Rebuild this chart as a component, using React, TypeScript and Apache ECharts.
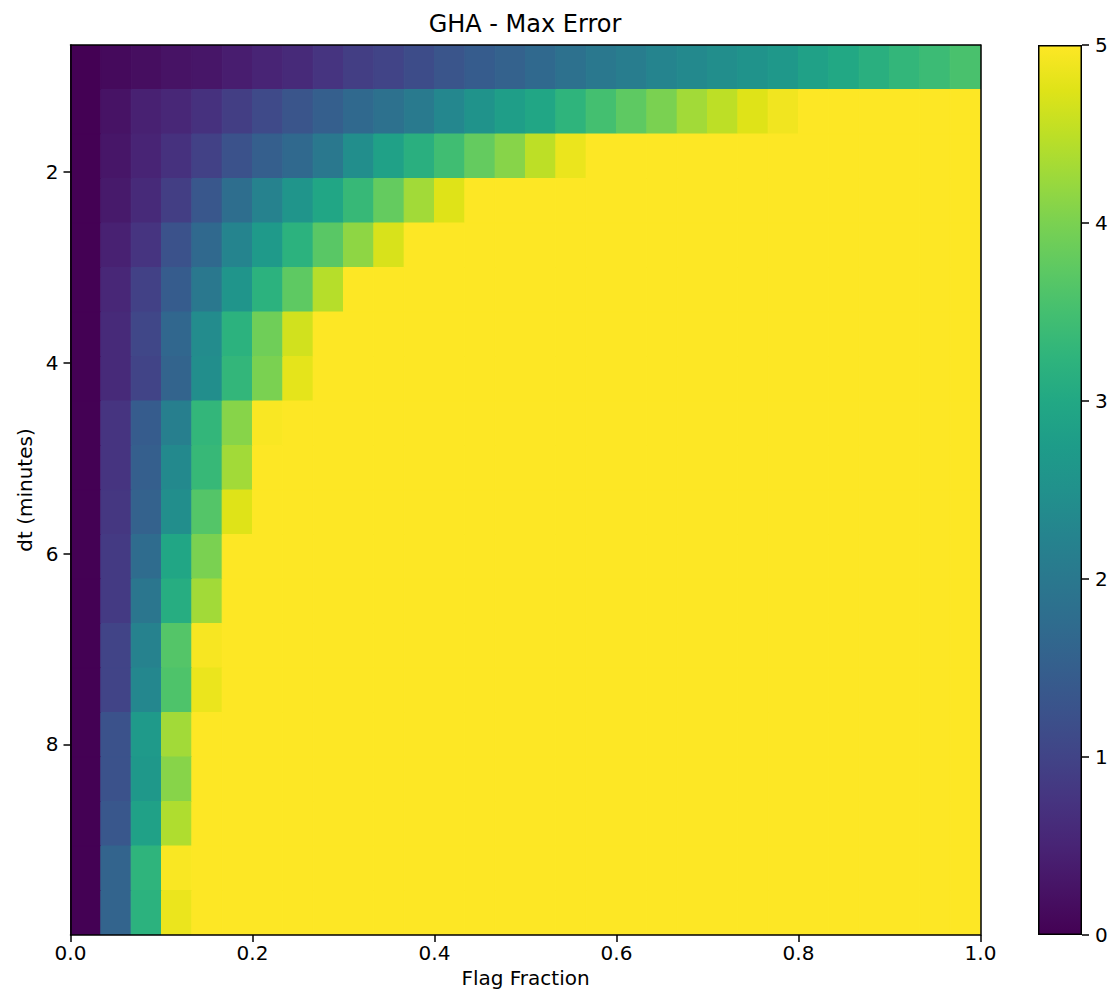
import React, { useEffect, useRef } from "react";
import * as echarts from "echarts";

// ---- texts ----
const TITLE = "GHA - Max Error";
const X_NAME = "Flag Fraction";
const Y_NAME = "dt (minutes)";

// ---- bins / extents ----
const FLAG_MIN = 0;
const FLAG_MAX = 1;
const FLAG_BINS = 30;
const DT_MIN = 2 / 3;
const DT_MAX = 10;
const DT_BINS = 20;

// ---- ticks ----
const X_TICK_STEP = 0.2;
const Y_TICKS = [2, 4, 6, 8];
const CBAR_MIN = 0;
const CBAR_MAX = 5;
const CBAR_STEP = 1;

// ---- max error per dt row (top to bottom); leading unsaturated cells,
// every further cell in the row is at the colour ceiling (>= 5) ----
const SATURATED = 5;
const row00 = [0.0, 0.12, 0.18, 0.25, 0.3, 0.4, 0.5, 0.6, 0.75, 0.9, 1.0, 1.15, 1.3, 1.45, 1.55, 1.7, 1.85, 2.0, 2.1, 2.25, 2.35, 2.45, 2.55, 2.65, 2.85, 3.0, 3.15, 3.3, 3.4, 3.55];
const row01 = [0.0, 0.25, 0.45, 0.55, 0.7, 0.9, 1.1, 1.3, 1.5, 1.7, 1.85, 2.05, 2.3, 2.55, 2.8, 2.95, 3.25, 3.5, 3.75, 4.0, 4.3, 4.5, 4.75, 4.9];
const row02 = [0.0, 0.3, 0.5, 0.7, 0.95, 1.25, 1.5, 1.7, 2.0, 2.45, 2.85, 3.15, 3.45, 3.8, 4.1, 4.5, 4.85];
const row03 = [0.0, 0.35, 0.6, 0.9, 1.35, 1.8, 2.2, 2.6, 2.95, 3.35, 3.8, 4.3, 4.75];
const row04 = [0.0, 0.45, 0.75, 1.25, 1.7, 2.25, 2.7, 3.2, 3.7, 4.15, 4.7];
const row05 = [0.0, 0.55, 0.95, 1.45, 2.0, 2.6, 3.2, 3.75, 4.45];
const row06 = [0.0, 0.6, 1.05, 1.65, 2.4, 3.2, 3.9, 4.65];
const row07 = [0.0, 0.6, 1.0, 1.6, 2.45, 3.3, 4.0, 4.8];
const row08 = [0.0, 0.75, 1.45, 2.15, 3.3, 4.1, 4.97];
const row09 = [0.0, 0.75, 1.5, 2.35, 3.35, 4.3];
const row10 = [0.0, 0.8, 1.55, 2.45, 3.65, 4.75];
const row11 = [0.0, 0.85, 1.75, 2.95, 4.0];
const row12 = [0.0, 0.85, 1.95, 3.1, 4.3];
const row13 = [0.0, 1.0, 2.2, 3.65, 4.95];
const row14 = [0.0, 1.0, 2.3, 3.6, 4.85];
const row15 = [0.0, 1.25, 2.7, 4.3];
const row16 = [0.0, 1.25, 2.65, 4.1];
const row17 = [0.0, 1.35, 2.85, 4.4];
const row18 = [0.0, 1.6, 3.25, 4.97];
const row19 = [0.0, 1.6, 3.2, 4.85];
const ROWS = [row00, row01, row02, row03, row04, row05, row06, row07, row08, row09, row10, row11, row12, row13, row14, row15, row16, row17, row18, row19];

// ---- viridis colormap stops ----
const VIRIDIS = [
  "#440154", "#471365", "#482475", "#463480", "#414487", "#3b528b", "#355f8d",
  "#2f6c8e", "#2a788e", "#25848e", "#21918c", "#1e9c89", "#22a884", "#2fb47c",
  "#44bf70", "#5ec962", "#7ad151", "#9bd93c", "#bddf26", "#dfe318", "#fde725",
];

const FONT = "DejaVu Sans";

export default function App() {
  const ref = useRef<HTMLDivElement>(null);

  useEffect(() => {
    if (!ref.current) return;
    const chart = echarts.init(ref.current, undefined, { renderer: "svg" });

    const xw = (FLAG_MAX - FLAG_MIN) / FLAG_BINS;
    const yh = (DT_MAX - DT_MIN) / DT_BINS;
    const cells: number[][] = [];
    ROWS.forEach((row, r) => {
      for (let c = 0; c < FLAG_BINS; c++) {
        const v = c < row.length ? row[c] : SATURATED;
        cells.push([FLAG_MIN + (c + 0.5) * xw, DT_MIN + (r + 0.5) * yh, v]);
      }
    });

    const gradStops = VIRIDIS.map((color, i) => ({ offset: i / (VIRIDIS.length - 1), color }));

    const spine = { show: true, onZero: false, lineStyle: { color: "#000", width: 1.5 } };
    const lineAxisCommon = {
      axisLine: spine,
      axisTick: { show: false },
      axisLabel: { show: false },
      splitLine: { show: false },
      z: 10,
    };

    const option: any = {
      animation: false,
      backgroundColor: "#fff",
      textStyle: { fontFamily: FONT, color: "#000" },
      title: {
        text: TITLE,
        left: 525,
        top: 12,
        padding: 0,
        textAlign: "center",
        textStyle: { fontFamily: FONT, fontSize: 24, fontWeight: "normal", color: "#000" },
      },
      grid: [
        { left: 70.5, top: 45, width: 910, height: 890, show: false },
        { left: 1038, top: 45, width: 44, height: 890, show: false },
      ],
      visualMap: {
        type: "continuous",
        show: false,
        min: CBAR_MIN,
        max: CBAR_MAX,
        dimension: 2,
        seriesIndex: 0,
        inRange: { color: VIRIDIS },
      },
      xAxis: [
        {
          type: "value",
          gridIndex: 0,
          position: "bottom",
          min: FLAG_MIN,
          max: FLAG_MAX,
          interval: X_TICK_STEP,
          name: X_NAME,
          nameLocation: "middle",
          nameGap: 33,
          nameTextStyle: { fontFamily: FONT, fontSize: 20, color: "#000" },
          axisLine: spine,
          axisTick: { show: true, inside: false, length: 7, lineStyle: { color: "#000", width: 1.5 } },
          axisLabel: {
            fontFamily: FONT,
            fontSize: 20,
            color: "#000",
            margin: 8,
            formatter: (v: number) => v.toFixed(1),
          },
          splitLine: { show: false },
          z: 10,
        },
        { type: "value", gridIndex: 0, position: "top", min: FLAG_MIN, max: FLAG_MAX, ...lineAxisCommon },
        { type: "category", gridIndex: 1, data: [""], show: false },
      ],
      yAxis: [
        {
          type: "value",
          gridIndex: 0,
          position: "left",
          min: DT_MIN,
          max: DT_MAX,
          inverse: true,
          name: Y_NAME,
          nameLocation: "middle",
          nameGap: 36,
          nameTextStyle: { fontFamily: FONT, fontSize: 20, color: "#000" },
          axisLine: spine,
          axisTick: {
            show: true,
            inside: false,
            length: 7,
            customValues: Y_TICKS,
            lineStyle: { color: "#000", width: 1.5 },
          },
          axisLabel: {
            fontFamily: FONT,
            fontSize: 20,
            color: "#000",
            margin: 12,
            customValues: Y_TICKS,
          },
          splitLine: { show: false },
          z: 10,
        },
        { type: "value", gridIndex: 0, position: "right", min: DT_MIN, max: DT_MAX, inverse: true, ...lineAxisCommon },
        {
          type: "value",
          gridIndex: 1,
          position: "right",
          min: CBAR_MIN,
          max: CBAR_MAX,
          interval: CBAR_STEP,
          axisLine: { show: false },
          axisTick: { show: true, inside: false, length: 7, lineStyle: { color: "#000", width: 1.5 } },
          axisLabel: { fontFamily: FONT, fontSize: 20, color: "#000", margin: 13 },
          splitLine: { show: false },
          z: 10,
        },
      ],
      series: [
        {
          type: "custom",
          xAxisIndex: 0,
          yAxisIndex: 0,
          clip: true,
          silent: true,
          z: 2,
          encode: { x: 0, y: 1 },
          data: cells,
          renderItem: (params: any, api: any) => {
            const cx = api.value(0);
            const cy = api.value(1);
            const p0 = api.coord([cx - xw / 2, cy - yh / 2]);
            const p1 = api.coord([cx + xw / 2, cy + yh / 2]);
            const color = api.visual("color");
            return {
              type: "rect",
              shape: {
                x: Math.min(p0[0], p1[0]),
                y: Math.min(p0[1], p1[1]),
                width: Math.abs(p1[0] - p0[0]),
                height: Math.abs(p1[1] - p0[1]),
              },
              style: { fill: color, stroke: color, lineWidth: 1 },
            };
          },
        },
        {
          type: "bar",
          xAxisIndex: 2,
          yAxisIndex: 2,
          silent: true,
          barWidth: "100%",
          data: [CBAR_MAX],
          itemStyle: {
            color: new echarts.graphic.LinearGradient(0, 1, 0, 0, gradStops),
            borderColor: "#000",
            borderWidth: 1.5,
          },
        },
      ],
    };

    chart.setOption(option);
    return () => chart.dispose();
  }, []);

  return (
    <div
      ref={ref}
      style={{ position: "fixed", left: 0, top: 0, width: 1114, height: 996, background: "#fff" }}
    />
  );
}
